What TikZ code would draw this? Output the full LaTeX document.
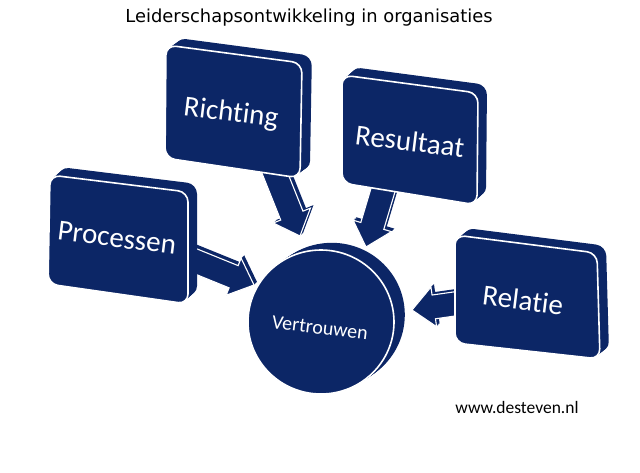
\documentclass[tikz,border=0pt]{standalone}
\usepackage{fontspec}
\setmainfont{Carlito}[Ligatures=NoCommon]
\newfontfamily\titlefont{DejaVu Sans}
\usetikzlibrary{calc}
\definecolor{navy}{RGB}{12,38,102}
\tikzset{
  boxfront/.style={fill=navy, draw=white, line width=1.6pt, rounded corners=10pt},
  boxtext/.style={text=white, font=\fontsize{29}{32}\selectfont, rotate=-7, inner sep=0pt},
  arrowfront/.style={fill=navy, draw=white, line width=1.1pt, line join=miter},
  arrowback/.style={fill=navy},
}
% slab: four corners (image px), depth offset dx dy
\newcommand\slab[6]{%
  \foreach \t in {0,0.1,...,1.0}{%
    \fill[navy, rounded corners=10pt, shift={(#5*\t,#6*\t)}] #1 -- #2 -- #3 -- #4 -- cycle;}
  \filldraw[boxfront] #1 -- #2 -- #3 -- #4 -- cycle;
}
% block arrow polygon between two named coordinates
\newcommand\arrowpoly[3]{%
  \path ($(#2)!22pt!(#1)$) coordinate (hb);
  \path[#3] ($(#1)!12pt!90:(#2)$) -- ($(hb)!12pt!90:(#2)$) -- ($(hb)!20pt!90:(#2)$)
    -- (#2) -- ($(hb)!20pt!-90:(#2)$) -- ($(hb)!12pt!-90:(#2)$) -- ($(#1)!12pt!-90:(#2)$) -- cycle;
}
\newcommand\blockarrow[2]{%
  \foreach \t in {0.25,0.5,0.75,1}{%
    \coordinate (ta) at ($(#1)+(3*\t,-3*\t)$);
    \coordinate (tb) at ($(#2)+(3*\t,-3*\t)$);
    \arrowpoly{ta}{tb}{arrowback}}
  \arrowpoly{#1}{#2}{arrowfront}
}
\begin{document}
\begin{tikzpicture}[x=1pt,y=-1pt]
\useasboundingbox[fill=white] (0,0) rectangle (640,472);

% title
\node[font=\titlefont\fontsize{17.9}{21}\selectfont] (title) at (309,18) {Leiderschapsontwikkeling in organisaties};

% centre disc
\foreach \t in {0,0.1,...,1.0}{%
  \fill[navy] ($(321,322)+(12*\t,-8*\t)$) ellipse [x radius=73, y radius=72];}
\filldraw[fill=navy, draw=white, line width=1.6pt] (321,322) ellipse [x radius=73, y radius=72];
\node[text=white, font=\fontsize{20}{23}\selectfont, rotate=-7] (vertrouwen) at (320,328) {Vertrouwen};

% arrow end points
\coordinate (aR1) at (272,166); \coordinate (aR2) at (300,236);
\coordinate (aS1) at (386,180); \coordinate (aS2) at (366,247);
\coordinate (aP1) at (185,257); \coordinate (aP2) at (254,285);
\coordinate (aL1) at (468,302); \coordinate (aL2) at (412,310);
\blockarrow{aR1}{aR2}
\blockarrow{aS1}{aS2}
\blockarrow{aP1}{aP2}
\blockarrow{aL1}{aL2}

% boxes
\slab{(166,45)}{(302,63)}{(300,178)}{(165,158)}{11}{-8}
\node[boxtext] (richting) at (231,114) {Richting};

\slab{(342,75)}{(478,93)}{(477,205)}{(342,183)}{10}{-9}
\node[boxtext] (resultaat) at (410,141) {Resultaat};

\slab{(50,175)}{(188,192)}{(188,304)}{(48,284)}{10}{-9}
\node[boxtext] (processen) at (117,238) {Processen};

\slab{(455,235)}{(597,253)}{(600,359)}{(455,343)}{10}{-8}
\node[boxtext] (relatie) at (523,300) {Relatie};

% site
\node[font=\fontsize{17.5}{20}\selectfont] (site) at (517,407) {www.desteven.nl};
\end{tikzpicture}
\end{document}
